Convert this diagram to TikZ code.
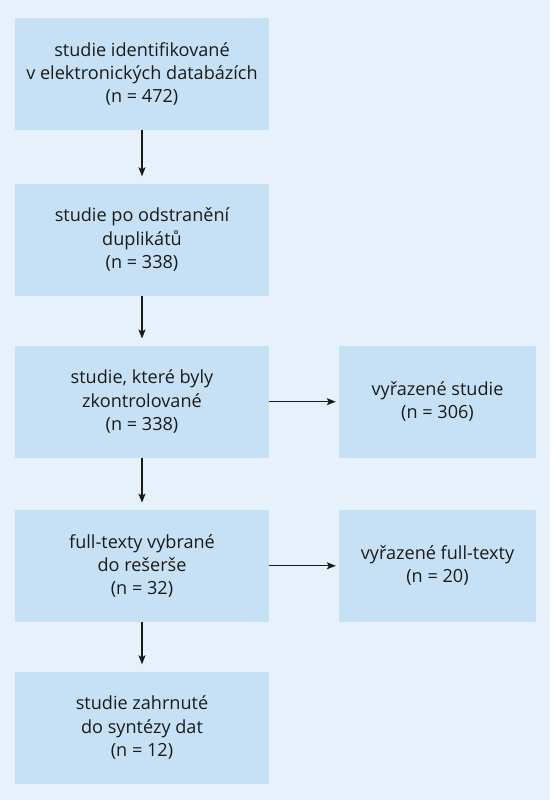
\documentclass[tikz,border=0pt]{standalone}
\usepackage{fontspec}
\setmainfont{Open Sans}
\usetikzlibrary{arrows.meta}
\definecolor{bgcol}{HTML}{E6F1FB}
\definecolor{boxcol}{HTML}{C6E1F5}
\definecolor{txtcol}{HTML}{1A1A1A}
\begin{document}
\begin{tikzpicture}[x=1pt,y=-1pt,
  flowbox/.style={fill=boxcol,draw=none,minimum width=254pt,minimum height=112pt,inner sep=0pt,align=center,text=txtcol,font=\fontsize{18.1}{23.3}\selectfont},
  sidebox/.style={flowbox,minimum width=197pt},
  arr/.style={draw=txtcol,line width=1.2pt,-{Stealth[length=9pt,width=7pt,inset=2pt]},shorten >=7pt}]
\fill[bgcol] (0,0) rectangle (550,800);
\useasboundingbox (0,0) rectangle (550,800);
\node[flowbox] (b1) at (142,74) {studie identifikované\\v elektronických databázích\\(n = 472)};
\node[flowbox] (b2) at (142,239.5) {studie po odstranění\\duplikátů\\(n = 338)};
\node[flowbox] (b3) at (142,401.7) {studie, které byly\\zkontrolované\\(n = 338)};
\node[flowbox] (b4) at (142,565.8) {full-texty vybrané\\do rešerše\\(n = 32)};
\node[flowbox] (b5) at (142,727.5) {studie zahrnuté\\do syntézy dat\\(n = 12)};
\node[sidebox] (s3) at (437.5,401.7) {vyřazené studie\\(n = 306)};
\node[sidebox] (s4) at (437.5,565.8) {vyřazené full-texty\\(n = 20)};
\draw[arr] (b1) -- (b2);
\draw[arr] (b2) -- (b3);
\draw[arr] (b3) -- (b4);
\draw[arr] (b4) -- (b5);
\draw[arr,shorten >=3pt] (b3) -- (s3);
\draw[arr,shorten >=3pt] (b4) -- (s4);
\end{tikzpicture}
\end{document}
